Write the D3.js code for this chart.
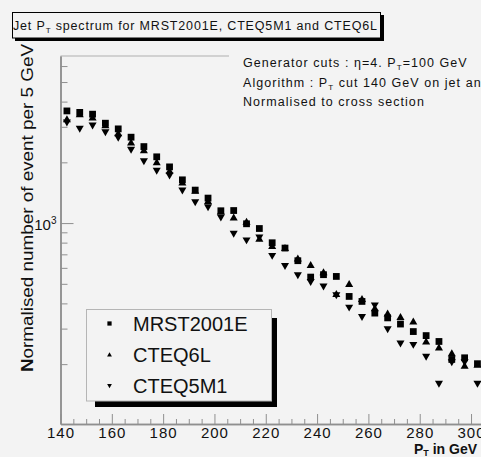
<!DOCTYPE html>
<html>
<head>
<meta charset="utf-8">
<script src="https://cdn.jsdelivr.net/npm/d3@7"></script>
<style>
  html, body { margin: 0; padding: 0; background: #f3f3f3; }
  svg { display: block; font-family: "Liberation Sans", Arial, Helvetica, sans-serif; }
</style>
</head>
<body>
<svg id="chart" width="481" height="457"></svg>
<script>
// Jet pT bin centres (GeV), 5 GeV bins
const ptBins = [142.5, 147.5, 152.5, 157.5, 162.5, 167.5, 172.5, 177.5, 182.5, 187.5,
  192.5, 197.5, 202.5, 207.5, 212.5, 217.5, 222.5, 227.5, 232.5, 237.5,
  242.5, 247.5, 252.5, 257.5, 262.5, 267.5, 272.5, 277.5, 282.5, 287.5,
  292.5, 297.5, 302.5];

// Normalised number of events per 5 GeV for each PDF set
const mrst2001e = [3596, 3536, 3465, 3126, 2930, 2665, 2394, 2130, 1899, 1638,
  1457, 1330, 1151, 1154, 992, 940, 799, 752, 651, 540,
  555, 544, 433, 409, 358, 339, 316, 290, 277, 259,
  211, 215, 201];
const cteq6l = [3246, 3437, 3310, 3031, 2768, 2489, 2280, 1989, 1801, 1578,
  1437, 1275, 1131, 1059, 1007, 831, 763, 746, 663, 615,
  566, 442, 495, 417, 376, 354, 340, 323, 257, 240,
  225, 195, 197];
const cteq5m1 = [3172, 2953, 3066, 2841, 2665, 2324, 2041, 1830, 1734, 1462,
  1279, 1206, 1074, 892, 827, 855, 693, 617, 555, 514,
  489, 442, 384, 345, 394, 300, 255, 251, 219, 161,
  206, 206, 161];

const seriesNames = ["MRST2001E", "CTEQ6L", "CTEQ5M1"];
const xMajorTicks = [140, 160, 180, 200, 220, 240, 260, 280, 300];
const yMajorTicks = [1000];
const yMinorTicks = [200, 300, 400, 500, 600, 700, 800, 900, 2000, 3000, 4000, 5000, 6000];

const svg = d3.select("#chart");
const W = 481, H = 457;
const bg = "#f3f3f3";
const axisGrey = "#8f8f8f";

svg.append("rect").attr("width", W).attr("height", H).attr("fill", bg);

const x = d3.scaleLinear().domain([140, 304]).range([60.5, 481.3]);
const y = d3.scaleLog().domain([101, 6730]).range([424, 56]);

// frame: visible part of the top edge
svg.append("line").attr("x1", 60.5).attr("x2", 229).attr("y1", 56).attr("y2", 56)
  .attr("stroke", "#b0b0b0").attr("stroke-width", 1.2);

// x axis: minor ticks every 5 GeV, major every 20 GeV
const xMinor = d3.range(140, 305, 5).filter(v => v % 20 !== 0);
const gxMinor = svg.append("g").attr("transform", "translate(0,424)")
  .call(d3.axisBottom(x).tickValues(xMinor).tickSize(-5).tickSizeOuter(0).tickFormat(""));
const gx = svg.append("g").attr("transform", "translate(0,424)")
  .call(d3.axisBottom(x).tickValues(xMajorTicks).tickSize(-10).tickSizeOuter(0).tickPadding(3.5));
[gx, gxMinor].forEach(g => {
  g.selectAll("path.domain").attr("stroke", axisGrey).attr("stroke-width", 1.5);
  g.selectAll(".tick line").attr("stroke", axisGrey).attr("stroke-width", 1);
});
gx.selectAll(".tick text")
  .attr("fill", "#111").attr("font-size", 15).attr("letter-spacing", 1)
  .attr("font-family", "Liberation Sans, Arial, sans-serif");

// y axis (log)
const gyMinor = svg.append("g").attr("transform", "translate(60.5,0)")
  .call(d3.axisLeft(y).tickValues(yMinorTicks).tickSize(-7).tickSizeOuter(0).tickFormat(""));
const gy = svg.append("g").attr("transform", "translate(60.5,0)")
  .call(d3.axisLeft(y).tickValues(yMajorTicks).tickSize(-13).tickSizeOuter(0).tickFormat(""));
[gy, gyMinor].forEach(g => {
  g.selectAll("path.domain").attr("stroke", axisGrey).attr("stroke-width", 1.5);
  g.selectAll(".tick line").attr("stroke", axisGrey).attr("stroke-width", 1);
});
// 10^3 label with superscript exponent
gy.selectAll(".tick text").each(function(d) {
  const t = d3.select(this)
    .attr("x", -4).attr("dy", "0.4em").attr("text-anchor", "end")
    .attr("fill", "#111").attr("font-size", 15)
    .attr("font-family", "Liberation Sans, Arial, sans-serif");
  t.text(null);
  t.append("tspan").text("10");
  t.append("tspan").attr("dy", -6).attr("font-size", 10).text(Math.round(Math.log10(d)));
});

// y axis title
svg.append("text")
  .attr("transform", "translate(33,372) rotate(-90)")
  .attr("font-size", 16).attr("fill", "#111")
  .attr("textLength", 328).attr("lengthAdjust", "spacingAndGlyphs")
  .call(t => {
    t.append("tspan").attr("font-weight", "bold").text("N");
    t.append("tspan").text("ormalised number of event per 5 GeV");
  });

// x axis title
svg.append("text")
  .attr("x", 477).attr("y", 454).attr("text-anchor", "end")
  .attr("font-size", 14).attr("font-weight", "bold").attr("fill", "#111")
  .call(t => {
    t.append("tspan").text("P");
    t.append("tspan").attr("dy", 2).attr("font-size", 9).text("T");
    t.append("tspan").attr("dy", -2).text(" in GeV");
  });

// markers
const symSquare = d3.symbol().type(d3.symbolSquare).size(46);
const symTri = d3.symbol().type(d3.symbolTriangle).size(28);
const series = [
  { name: seriesNames[0], values: mrst2001e, path: symSquare(), rot: 0 },
  { name: seriesNames[1], values: cteq6l, path: symTri(), rot: 0 },
  { name: seriesNames[2], values: cteq5m1, path: symTri(), rot: 180 }
];
series.forEach(s => {
  svg.append("g").selectAll("path")
    .data(s.values.map((v, i) => [ptBins[i], v]))
    .join("path")
    .attr("d", s.path)
    .attr("fill", "#000")
    .attr("transform", d => `translate(${x(d[0])},${y(d[1])}) rotate(${s.rot})`);
});

// legend with drop shadow
const lg = svg.append("g");
lg.append("rect").attr("x", 95).attr("y", 318).attr("width", 182).attr("height", 89).attr("fill", "#000");
lg.append("rect").attr("x", 86.5).attr("y", 309.5).attr("width", 185).attr("height", 91.5)
  .attr("fill", bg).attr("stroke", "#b5b5b5").attr("stroke-width", 1);
const legSquare = d3.symbol().type(d3.symbolSquare).size(18);
const legTri = d3.symbol().type(d3.symbolTriangle).size(10);
const legRows = [
  { path: legSquare(), rot: 0, cy: 323.5 },
  { path: legTri(), rot: 0, cy: 355 },
  { path: legTri(), rot: 180, cy: 385.5 }
];
legRows.forEach((r, i) => {
  lg.append("path").attr("d", r.path).attr("fill", "#000")
    .attr("transform", `translate(109.5,${r.cy}) rotate(${r.rot})`);
  lg.append("text").attr("x", 133).attr("y", r.cy + 7)
    .attr("font-size", 20).attr("fill", "#111").text(seriesNames[i]);
});

// title box with shadow
svg.append("rect").attr("x", 15).attr("y", 15).attr("width", 369).attr("height", 26).attr("fill", "#000");
svg.append("rect").attr("x", 12.5).attr("y", 12.5).attr("width", 368).attr("height", 25.5)
  .attr("fill", bg).attr("stroke", "#000").attr("stroke-width", 1);
svg.append("text").attr("x", 13).attr("y", 30)
  .attr("font-size", 12.5).attr("fill", "#111")
  .attr("textLength", 364).attr("lengthAdjust", "spacing")
  .call(t => {
    t.append("tspan").text("Jet P");
    t.append("tspan").attr("dy", 3).attr("font-size", 8).text("T");
    t.append("tspan").attr("dy", -3).text(" spectrum for MRST2001E, CTEQ5M1 and CTEQ6L");
  });

// generator/algorithm notes
const notes = svg.append("g").attr("font-size", 12.5).attr("fill", "#111").attr("letter-spacing", 1.05);
notes.append("text").attr("x", 243).attr("y", 66.5)
  .call(t => {
    t.append("tspan").text("Generator cuts : \u03B7=4. P");
    t.append("tspan").attr("dy", 3).attr("font-size", 8).text("T");
    t.append("tspan").attr("dy", -3).text("=100 GeV");
  });
notes.append("text").attr("x", 243).attr("y", 86.5)
  .call(t => {
    t.append("tspan").text("Algorithm :  P");
    t.append("tspan").attr("dy", 3).attr("font-size", 8).text("T");
    t.append("tspan").attr("dy", -3).text(" cut 140 GeV on jet and");
  });
notes.append("text").attr("x", 243).attr("y", 105.5)
  .text("Normalised to cross section");
</script>
</body>
</html>
